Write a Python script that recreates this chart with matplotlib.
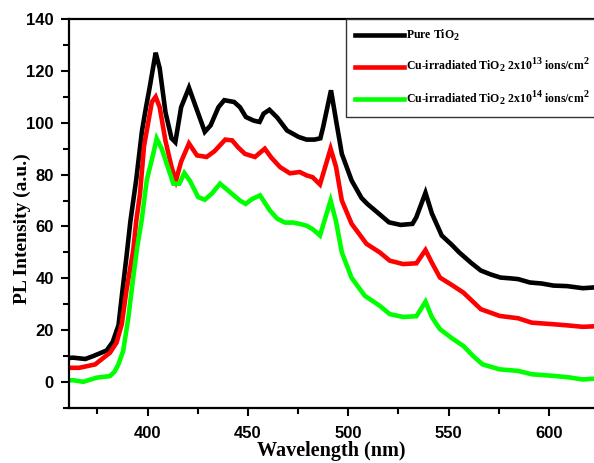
import numpy as np
import matplotlib
matplotlib.use("Agg")
import matplotlib.pyplot as plt
import matplotlib._mathtext as mt
from matplotlib.ticker import MultipleLocator

# wavelength grid (nm) and PL intensities
wl_pure = [358.1, 363.0, 368.9, 372.8, 379.6, 382.6, 385.5, 387.4, 389.4, 391.4, 394.3, 397.2, 399.2,
           401.1, 403.1, 404.0, 406.0, 408.9, 411.9, 413.8, 416.7, 420.6, 423.6, 428.5, 431.4, 435.3,
           438.2, 443.1, 446.0, 449.0, 452.9, 455.8, 457.8, 460.7, 464.6, 469.5, 475.3, 479.2, 483.2,
           486.1, 487.5, 491.4, 493.9, 496.8, 501.7, 506.6, 509.5, 514.4, 520.3, 526.1, 532.0, 533.9,
           538.5, 541.7, 546.6, 551.5, 555.3, 561.2, 566.1, 571.0, 575.9, 580.8, 584.7, 590.5, 596.4,
           602.3, 609.1, 616.9, 622.8]
pure = [9.2, 9.4, 8.9, 10.0, 12.2, 15.5, 22.0, 35.0, 48.0, 62.0, 78.0, 97.0, 106.0,
        114.0, 123.0, 127.0, 121.0, 104.0, 94.0, 92.5, 106.0, 113.5, 107.0, 96.5, 99.0, 106.0,
        108.7, 108.0, 106.0, 102.2, 100.8, 100.3, 103.5, 105.0, 102.0, 97.0, 94.5, 93.5, 93.5,
        94.0, 98.4, 112.5, 101.0, 88.0, 77.7, 71.0, 68.7, 65.5, 61.6, 60.6, 61.0, 63.5,
        73.0, 65.0, 56.5, 53.0, 50.0, 46.0, 43.0, 41.5, 40.3, 40.0, 39.7, 38.4, 38.0,
        37.2, 37.0, 36.2, 36.5]

wl_13 = [358.1, 365.9, 373.8, 381.2, 384.5, 387.1, 389.4, 392.8, 394.3, 396.2, 398.2, 402.1, 404.0,
         406.0, 408.9, 411.9, 414.1, 416.7, 420.6, 424.6, 429.4, 433.3, 438.7, 442.1, 445.1, 448.5,
         453.5, 458.4, 461.7, 466.0, 470.9, 475.8, 479.2, 482.2, 485.9, 491.2, 493.9, 496.8, 501.7,
         509.1, 515.7, 520.7, 527.4, 534.0, 538.5, 541.7, 545.7, 551.5, 557.4, 566.1, 575.5, 584.7,
         591.5, 602.3, 610.1, 616.9, 622.8]
ions13 = [5.5, 5.5, 6.8, 11.3, 15.2, 22.3, 35.2, 50.7, 62.0, 72.6, 91.0, 108.0, 110.0,
          106.0, 93.0, 83.0, 77.7, 85.0, 92.0, 87.4, 86.8, 89.0, 93.5, 93.2, 90.5, 88.0,
          86.8, 90.0, 86.5, 82.9, 80.5, 81.0, 79.7, 79.0, 76.2, 90.0, 83.0, 70.0, 61.0,
          53.3, 50.0, 46.8, 45.5, 45.8, 50.9, 46.0, 40.3, 37.5, 34.5, 28.1, 25.5, 24.6,
          22.9, 22.3, 21.8, 21.3, 21.5]

wl_14 = [358.1, 363.0, 367.9, 374.6, 381.2, 383.5, 385.4, 387.8, 390.4, 392.8, 394.8, 397.0, 399.6,
         402.8, 404.5, 407.0, 409.5, 412.8, 415.8, 418.3, 421.0, 425.2, 428.5, 431.9, 436.1, 441.1,
         446.0, 448.9, 451.9, 456.0, 461.0, 464.6, 468.5, 472.4, 475.8, 479.2, 482.2, 485.9, 491.2,
         493.9, 496.8, 501.6, 508.2, 515.7, 520.7, 527.4, 534.0, 538.5, 541.7, 545.7, 551.5, 557.4,
         562.3, 567.0, 575.5, 584.7, 591.5, 602.3, 610.1, 616.9, 622.8]
ions14 = [0.7, 0.7, 0.1, 1.7, 2.3, 4.0, 6.8, 12.0, 24.9, 40.3, 52.0, 62.3, 78.0,
          88.0, 93.9, 90.0, 84.2, 76.5, 76.5, 80.6, 77.7, 71.3, 70.3, 72.6, 76.5, 73.2,
          70.0, 68.7, 70.5, 72.0, 66.1, 63.0, 61.5, 61.5, 61.0, 60.3, 59.0, 56.5, 70.0,
          62.0, 50.0, 40.3, 33.3, 29.4, 26.2, 25.1, 25.4, 31.0, 25.0, 20.4, 17.0, 13.9,
          10.0, 6.8, 4.9, 4.3, 3.0, 2.4, 1.8, 1.0, 1.3]

labels = [r"Pure TiO$_\mathbf{2}$",
          r"Cu-irradiated TiO$_\mathbf{2}$ 2x10$^\mathbf{13}$ ions/cm$^\mathbf{2}$",
          r"Cu-irradiated TiO$_\mathbf{2}$ 2x10$^\mathbf{14}$ ions/cm$^\mathbf{2}$"]
colors = ["#000000", "#ff0000", "#00ff00"]

plt.rcParams["mathtext.fontset"] = "custom"
plt.rcParams["mathtext.rm"] = "Liberation Serif:bold"
plt.rcParams["mathtext.bf"] = "Liberation Serif:bold"
# bigger sub/superscripts, like the original legend
mt.SHRINK_FACTOR = 0.85

fig = plt.figure(figsize=(5.94, 4.63), dpi=100)
ax = fig.add_axes([69 / 594, 1 - 408 / 463, 1 - 69 / 594, (408 - 19) / 463])

for wl, y, c, lab in zip([wl_pure, wl_13, wl_14], [pure, ions13, ions14], colors, labels):
    ax.plot(wl, y, color=c, lw=3.3, label=lab, solid_joinstyle="miter")

ax.set_xlim(360.8, 622.5)
ax.set_ylim(-10, 140)
ax.xaxis.set_major_locator(MultipleLocator(50))
ax.xaxis.set_minor_locator(MultipleLocator(25))
ax.set_yticks(np.arange(0, 141, 20))
ax.yaxis.set_minor_locator(MultipleLocator(10))

ax.spines["right"].set_visible(False)
for s in ax.spines.values():
    s.set_linewidth(1.6)
ax.tick_params(which="both", direction="out", width=1.5, labelsize=12)
ax.tick_params(which="major", length=6)
ax.tick_params(which="minor", length=4)
ax.tick_params(axis="y", pad=5)
ax.tick_params(axis="x", pad=7)
for t in ax.get_xticklabels() + ax.get_yticklabels():
    t.set_fontfamily("Liberation Sans")
    t.set_fontweight("bold")

ax.set_xlabel("Wavelength (nm)", family="Liberation Serif", weight="bold", fontsize=14.5, labelpad=0)
ax.set_ylabel("PL Intensity (a.u.)", family="Liberation Serif", weight="bold", fontsize=14)
ax.yaxis.set_label_coords(-0.072, 0.46)

leg = ax.legend(loc="upper left", bbox_to_anchor=(346 / 594, 1 - 19 / 463),
                bbox_transform=fig.transFigure, fancybox=False, edgecolor="#333333",
                framealpha=1, handlelength=4.2, handletextpad=0.1, labelspacing=1.2,
                borderpad=0.75, borderaxespad=0,
                prop={"family": "Liberation Serif", "weight": "bold", "size": 8.5})
leg.get_frame().set_linewidth(1.0)

fig.savefig("out.png", dpi=100)
